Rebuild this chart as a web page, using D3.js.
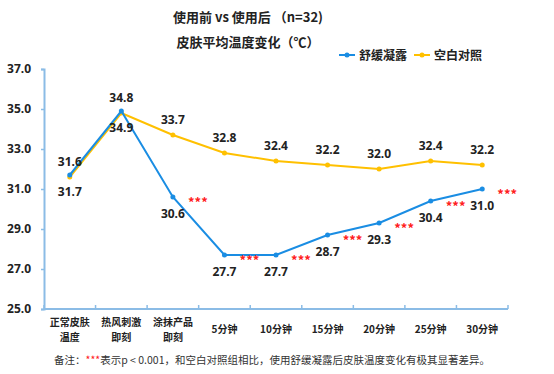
<!DOCTYPE html>
<html>
<head>
<meta charset="utf-8">
<script src="https://cdn.jsdelivr.net/npm/d3@7"></script>
<style>
  body { margin: 0; background: #fff; }
  text { font-family: "Noto Sans CJK SC", "Noto Sans", sans-serif; }
</style>
</head>
<body>
<div id="chart"></div>
<script>

var categories = [["正常皮肤", "温度"], ["热风刺激", "即刻"], ["涂抹产品", "即刻"], ["5分钟"], ["10分钟"], ["15分钟"], ["20分钟"], ["25分钟"], ["30分钟"]];
var gelValues = [31.7, 34.9, 30.6, 27.7, 27.7, 28.7, 29.3, 30.4, 31.0];
var blankValues = [31.6, 34.8, 33.7, 32.8, 32.4, 32.2, 32.0, 32.4, 32.2];
var significant = [false, false, true, true, true, true, true, true, true];
var yTicks = [25, 27, 29, 31, 33, 35, 37];
var seriesNames = ["舒缓凝露", "空白对照"];

var width = 554, height = 374;
var margin = {top: 69, right: 46, bottom: 65, left: 44};
var blue = "#1a8de3", yellow = "#ffc000", axisColor = "#8bbce6";

var svg = d3.select("#chart").append("svg")
    .attr("width", width)
    .attr("height", height);

var x = d3.scaleBand()
    .domain(d3.range(categories.length))
    .range([margin.left, width - margin.right]);

var y = d3.scaleLinear()
    .domain([25, 37])
    .range([height - margin.bottom, margin.top]);

// title
svg.append("text")
    .attr("x", 248).attr("y", 22)
    .attr("text-anchor", "middle")
    .style("font-size", "13px").style("font-weight", "bold").attr("fill", "#222")
    .text("使用前 vs 使用后 （n=32)");
svg.append("text")
    .attr("x", 248).attr("y", 47)
    .attr("text-anchor", "middle")
    .style("font-size", "13px").style("font-weight", "bold").attr("fill", "#222")
    .text("皮肤平均温度变化（℃）");

// y axis
var yAxis = svg.append("g")
    .attr("transform", "translate(" + margin.left + ",0)")
    .call(d3.axisLeft(y).tickValues(yTicks).tickSize(3).tickFormat(d3.format(".1f")));
yAxis.select(".domain").attr("stroke", axisColor).attr("stroke-width", 2);
yAxis.selectAll(".tick line").attr("stroke", axisColor).attr("stroke-width", 1.5);
yAxis.selectAll(".tick text")
    .attr("x", -13)
    .style("font-size", "12px").style("font-weight", "bold").attr("fill", "#222")
    .style("font-family", "'Noto Sans', sans-serif");

// x axis
var xAxis = svg.append("g")
    .attr("transform", "translate(0," + (height - margin.bottom) + ")");
xAxis.append("line")
    .attr("x1", margin.left).attr("x2", width - margin.right)
    .attr("stroke", axisColor).attr("stroke-width", 2);
xAxis.selectAll(".xtick")
    .data(d3.range(categories.length + 1))
    .enter().append("line")
    .attr("x1", function (d) { return margin.left + d * x.step(); })
    .attr("x2", function (d) { return margin.left + d * x.step(); })
    .attr("y1", 0).attr("y2", -4)
    .attr("stroke", axisColor).attr("stroke-width", 1.5);

var xl = xAxis.selectAll(".xlabel")
    .data(categories)
    .enter().append("text")
    .attr("text-anchor", "middle")
    .style("font-size", "10px").style("font-weight", "bold").attr("fill", "#222")
    .attr("transform", function (d, i) {
        return "translate(" + (x(i) + x.bandwidth() / 2) + "," + (d.length > 1 ? 17 : 24) + ")";
    });
xl.selectAll("tspan")
    .data(function (d) { return d; })
    .enter().append("tspan")
    .attr("x", 0)
    .attr("dy", function (d, i) { return i === 0 ? 0 : 14.5; })
    .text(function (d) { return d; });

// lines
var cx = function (d, i) { return x(i) + x.bandwidth() / 2; };
var line = d3.line().x(cx).y(function (d) { return y(d); });

[[blankValues, yellow], [gelValues, blue]].forEach(function (s) {
    svg.append("path")
        .datum(s[0])
        .attr("d", line)
        .attr("fill", "none")
        .attr("stroke", s[1])
        .attr("stroke-width", 2);
    svg.selectAll(null)
        .data(s[0])
        .enter().append("circle")
        .attr("cx", cx)
        .attr("cy", function (d) { return y(d); })
        .attr("r", 2.5)
        .attr("fill", s[1]);
});

// data labels
svg.selectAll(".lblY")
    .data(blankValues)
    .enter().append("text")
    .attr("x", cx)
    .attr("y", function (d) { return y(d) - 11; })
    .attr("text-anchor", "middle")
    .style("font-size", "12px").style("font-weight", "bold").attr("fill", "#222")
    .style("font-family", "'Noto Sans', sans-serif")
    .text(d3.format(".1f"));

svg.selectAll(".lblB")
    .data(gelValues)
    .enter().append("text")
    .attr("x", cx)
    .attr("y", function (d) { return y(d) + 21; })
    .attr("text-anchor", "middle")
    .style("font-size", "12px").style("font-weight", "bold").attr("fill", "#222")
    .style("font-family", "'Noto Sans', sans-serif")
    .text(d3.format(".1f"));

// significance stars
var starIdx = d3.range(gelValues.length).filter(function (i) { return significant[i]; });
svg.selectAll(".star")
    .data(starIdx)
    .enter().append("text")
    .attr("x", function (i) { return x(i) + x.bandwidth() / 2 + 25; })
    .attr("y", function (i) { return y(gelValues[i]) + 10; })
    .attr("text-anchor", "middle")
    .style("font-size", "13px").style("font-weight", "bold").attr("fill", "#ff2020")
    .text("***");

// legend
seriesNames.forEach(function (name, i) {
    var lx = 339 + i * 75, ly = 55;
    var c = i === 0 ? blue : yellow;
    svg.append("line")
        .attr("x1", lx).attr("x2", lx + 16)
        .attr("y1", ly).attr("y2", ly)
        .attr("stroke", c).attr("stroke-width", 2);
    svg.append("circle").attr("cx", lx + 8).attr("cy", ly).attr("r", 2.5).attr("fill", c);
    svg.append("text")
        .attr("x", lx + 20).attr("y", ly + 4.5)
        .style("font-size", "12px").style("font-weight", "bold").attr("fill", "#222")
        .text(name);
});

// footnote
var note = svg.append("text")
    .attr("x", 272).attr("y", 364)
    .attr("text-anchor", "middle")
    .style("font-size", "10.5px").attr("fill", "#333");
note.append("tspan").text("备注：");
note.append("tspan").attr("fill", "#ff2020").text("***");
note.append("tspan").text("表示p < 0.001，和空白对照组相比，使用舒缓凝露后皮肤温度变化有极其显著差异。");

</script>
</body>
</html>
